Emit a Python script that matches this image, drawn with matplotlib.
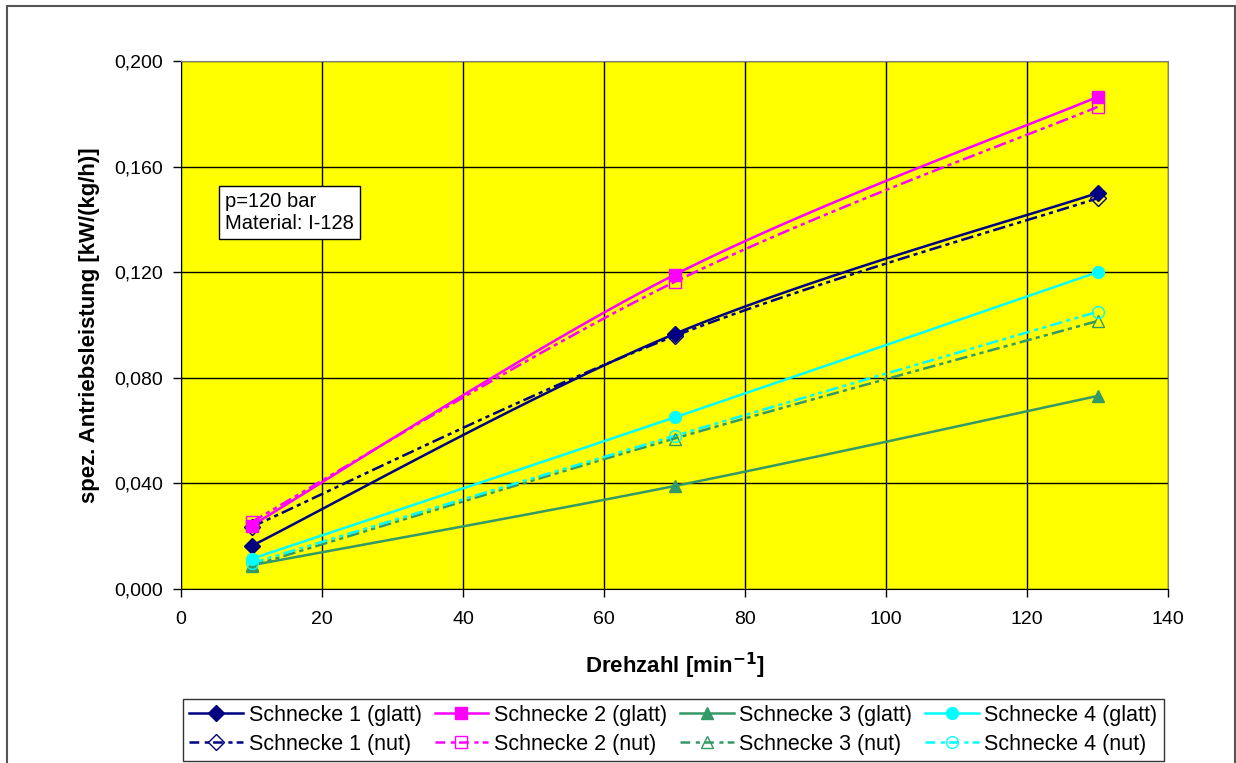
import matplotlib
matplotlib.use("Agg")
import matplotlib.pyplot as plt
import numpy as np
from matplotlib.patches import Rectangle
from matplotlib.ticker import FuncFormatter, MultipleLocator

plt.rcParams["font.family"] = ["Liberation Sans", "DejaVu Sans"]
plt.rcParams["lines.scale_dashes"] = False

# Drehzahl [1/min]
drehzahl = [10, 70, 130]

# spez. Antriebsleistung [kW/(kg/h)]
s1_glatt = [0.0163, 0.0966, 0.1500]
s2_glatt = [0.0240, 0.1190, 0.1864]
s3_glatt = [0.0090, 0.0390, 0.0731]
s4_glatt = [0.0114, 0.0650, 0.1200]
s1_nut = [0.0235, 0.0958, 0.1480]
s2_nut = [0.0254, 0.1163, 0.1826]
s3_nut = [0.0088, 0.0570, 0.1015]
s4_nut = [0.0098, 0.0580, 0.1050]

names = ["Schnecke 1", "Schnecke 2", "Schnecke 3", "Schnecke 4"]
colors = ["#000080", "#FF00FF", "#339966", "#00FFFF"]
markers = ["D", "s", "^", "o"]


def smooth(xs, ys, n=40):
    # cubic Bezier smoothing through the points (spreadsheet style)
    p = np.column_stack([xs, ys]).astype(float)
    ext = np.vstack([p[0], p, p[-1]])
    out = []
    t = np.linspace(0, 1, n)[:, None]
    for i in range(len(p) - 1):
        a, b = p[i], p[i + 1]
        c1 = a + (ext[i + 2] - ext[i]) / 6.0
        c2 = b - (ext[i + 3] - ext[i + 1]) / 6.0
        seg = (1 - t) ** 3 * a + 3 * (1 - t) ** 2 * t * c1 + 3 * (1 - t) * t ** 2 * c2 + t ** 3 * b
        out.append(seg if i == 0 else seg[1:])
    seg = np.vstack(out)
    return seg[:, 0], seg[:, 1]


fig = plt.figure(figsize=(12.36, 7.63), dpi=100)
ax = fig.add_axes([181 / 1236, 1 - 589 / 763, (1168 - 181) / 1236, (589 - 61) / 763])
ax.set_facecolor("#FFFF00")

nut_dash = (0, (9, 3, 3, 3, 3, 3))
handles = []
for name, c, m, g, n in zip(names, colors, markers, [s1_glatt, s2_glatt, s3_glatt, s4_glatt],
                             [s1_nut, s2_nut, s3_nut, s4_nut]):
    ms = 8 if m == "D" else 8.5
    xs, ys = smooth(drehzahl, g)
    ax.plot(xs, ys, color=c, lw=1.8, zorder=3)
    ax.plot(drehzahl, g, ls="none", marker=m, ms=ms, color=c, zorder=4)
    hg, = ax.plot([], [], color=c, lw=1.8, marker=m, ms=ms, label=f"{name} (glatt)")
    xs, ys = smooth(drehzahl, n)
    ax.plot(xs, ys, color=c, lw=1.8, ls=nut_dash, zorder=3)
    ax.plot(drehzahl, n, ls="none", marker=m, ms=ms, mfc="none", mec=c, mew=1.0, zorder=4)
    hn, = ax.plot([], [], color=c, lw=1.8, ls=(0, (7, 4, 3, 3)), marker=m, ms=ms, mfc="none",
                  mec=c, mew=1.0, label=f"{name} (nut)")
    handles += [hg, hn]

ax.set_xlim(0, 140)
ax.set_ylim(0, 0.2)
ax.xaxis.set_major_locator(MultipleLocator(20))
ax.yaxis.set_major_locator(MultipleLocator(0.04))
ax.yaxis.set_major_formatter(FuncFormatter(lambda v, p: f"{v:.3f}".replace(".", ",")))
ax.grid(True, color="black", lw=1.0)
ax.set_axisbelow(True)
ax.tick_params(labelsize=14, length=6, width=1, colors="black")
ax.tick_params(axis="x", pad=10)
ax.tick_params(axis="y", pad=7)
for s in ["top", "right"]:
    ax.spines[s].set_color("#808080")
for s in ["left", "bottom"]:
    ax.spines[s].set_color("black")

ax.set_xlabel("Drehzahl [min$^{\\mathbf{-1}}$]", fontsize=16, fontweight="bold", labelpad=16)
ax.set_ylabel("spez. Antriebsleistung [kW/(kg/h)]", fontsize=16, fontweight="bold")
ax.yaxis.set_label_coords(-0.082, 0.5)

ax.text(6.3, 0.1505, "p=120 bar\nMaterial: I-128", fontsize=14.5, va="top", ha="left",
        linespacing=1.25,
        bbox=dict(boxstyle="square,pad=0.3", fc="white", ec="black", lw=1), zorder=5)

leg = fig.legend(handles=handles, ncol=4, loc="lower left",
                 bbox_to_anchor=(183 / 1236, 2 / 763),
                 fontsize=15.5, frameon=True, fancybox=False, borderaxespad=0,
                 handlelength=2.5, handletextpad=0.25, columnspacing=0.6, labelspacing=0.35,
                 borderpad=0.3)
leg.get_frame().set_edgecolor("black")
leg.get_frame().set_linewidth(1)

# chart area border
fig.patches.append(Rectangle((7 / 1236, -0.01), (1235 - 7) / 1236, 1 - 6 / 763 + 0.01,
                             transform=fig.transFigure, fill=False, ec="#555555", lw=1.5))

fig.savefig("out.png", dpi=100)
